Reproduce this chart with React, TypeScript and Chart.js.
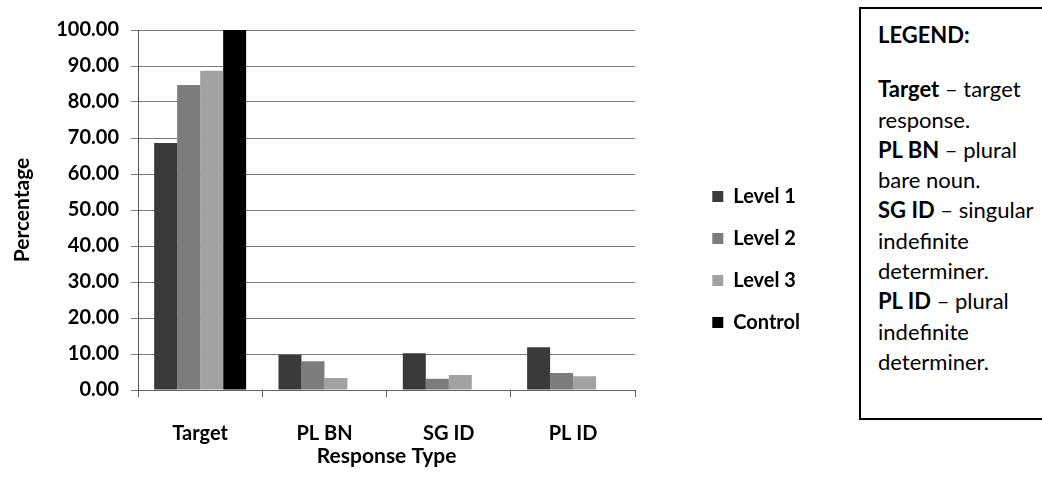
import React, { useEffect, useRef } from "react";
import { Chart, registerables } from "chart.js";

Chart.register(...registerables);

const categories = ["Target", "PL BN", "SG ID", "PL ID"];
const level1 = [68.6, 9.8, 10.2, 11.9];
const level2 = [84.7, 8.0, 3.1, 4.7];
const level3 = [88.7, 3.3, 4.2, 3.8];
const control = [100, 0, 0, 0];
const seriesNames = ["Level 1", "Level 2", "Level 3", "Control"];
const seriesColors = ["#3a3a3a", "#7c7c7c", "#a2a2a2", "#000000"];
const yMin = 0;
const yMax = 100;
const yStep = 10;

const FONT = "Lato, 'Open Sans', sans-serif";

export default function App() {
  const ref = useRef<HTMLCanvasElement | null>(null);

  useEffect(() => {
    if (!ref.current) return;
    const values = [level1, level2, level3, control];
    const chart = new Chart(ref.current, {
      type: "bar",
      data: {
        labels: categories,
        datasets: values.map((v, i) => ({
          label: seriesNames[i],
          data: v,
          backgroundColor: seriesColors[i],
          borderWidth: 0,
          categoryPercentage: 0.74,
          barPercentage: 1.0,
          yAxisID: "y",
        })),
      },
      options: {
        responsive: false,
        animation: false,
        layout: { padding: { top: 30, right: 40, bottom: 0, left: 0 } },
        plugins: {
          tooltip: { enabled: false },
          legend: {
            position: "right",
            align: "center",
            labels: {
              boxWidth: 11,
              boxHeight: 11,
              padding: 22,
              color: "#000",
              font: { family: FONT, size: 20, weight: "bold" },
            },
          },
        },
        scales: {
          x: {
            offset: true,
            afterFit: (s: any) => {
              s.height = 99;
            },
            grid: {
              drawOnChartArea: false,
              drawTicks: true,
              tickLength: 7,
              color: "#666",
              offset: true,
            },
            border: { display: true, color: "#666", width: 1 },
            ticks: {
              color: "#000",
              padding: 25,
              font: { family: FONT, size: 20, weight: "bold" },
            },
            title: {
              display: true,
              text: "Response Type",
              color: "#000",
              padding: { top: 0, bottom: 20 },
              font: { family: FONT, size: 21, weight: "bold" },
            },
          },
          y: {
            min: yMin,
            max: yMax,
            afterFit: (s: any) => {
              s.width = 138;
            },
            grid: {
              color: "#7a7a7a",
              lineWidth: 1,
              tickLength: 7,
            },
            border: { display: true, color: "#555", width: 1 },
            ticks: {
              stepSize: yStep,
              color: "#000",
              padding: 12,
              font: { family: FONT, size: 20, weight: "bold" },
              callback: (v: any) => Number(v).toFixed(2),
            },
            title: {
              display: true,
              text: "Percentage",
              color: "#000",
              padding: { top: 10, bottom: 0 },
              font: { family: FONT, size: 21, weight: "bold" },
            },
          },
          gap: {
            type: "linear",
            position: "right",
            display: true,
            min: yMin,
            max: yMax,
            afterFit: (s: any) => {
              s.width = 55;
            },
            grid: { display: false, drawOnChartArea: false, drawTicks: false },
            border: { display: false },
            ticks: { display: false },
          },
        },
      },
    });
    return () => chart.destroy();
  }, []);

  const boxLine: React.CSSProperties = { height: 30.3, lineHeight: "30.3px", whiteSpace: "nowrap" };

  return (
    <div style={{ position: "absolute", left: 0, top: 0, width: 1042, height: 489, background: "#fff", overflow: "hidden" }}>
      <canvas
        ref={ref}
        width={850}
        height={489}
        style={{ position: "absolute", left: 0, top: 0, width: 850, height: 489 }}
      />
      <div
        style={{
          position: "absolute",
          left: 859,
          top: 7,
          width: 200,
          height: 413,
          border: "2px solid #000",
          boxSizing: "border-box",
          paddingLeft: 17,
          paddingTop: 11,
          fontFamily: FONT,
          fontSize: 22,
          color: "#000",
        }}
      >
        <div style={{ ...boxLine, fontWeight: "bold", marginBottom: 24 }}>LEGEND:</div>
        <div style={boxLine}><b>Target</b> – target</div>
        <div style={boxLine}>response.</div>
        <div style={boxLine}><b>PL BN</b> – plural</div>
        <div style={boxLine}>bare noun.</div>
        <div style={boxLine}><b>SG ID</b> – singular</div>
        <div style={boxLine}>indefinite</div>
        <div style={boxLine}>determiner.</div>
        <div style={boxLine}><b>PL ID</b> – plural</div>
        <div style={boxLine}>indefinite</div>
        <div style={boxLine}>determiner.</div>
      </div>
    </div>
  );
}
